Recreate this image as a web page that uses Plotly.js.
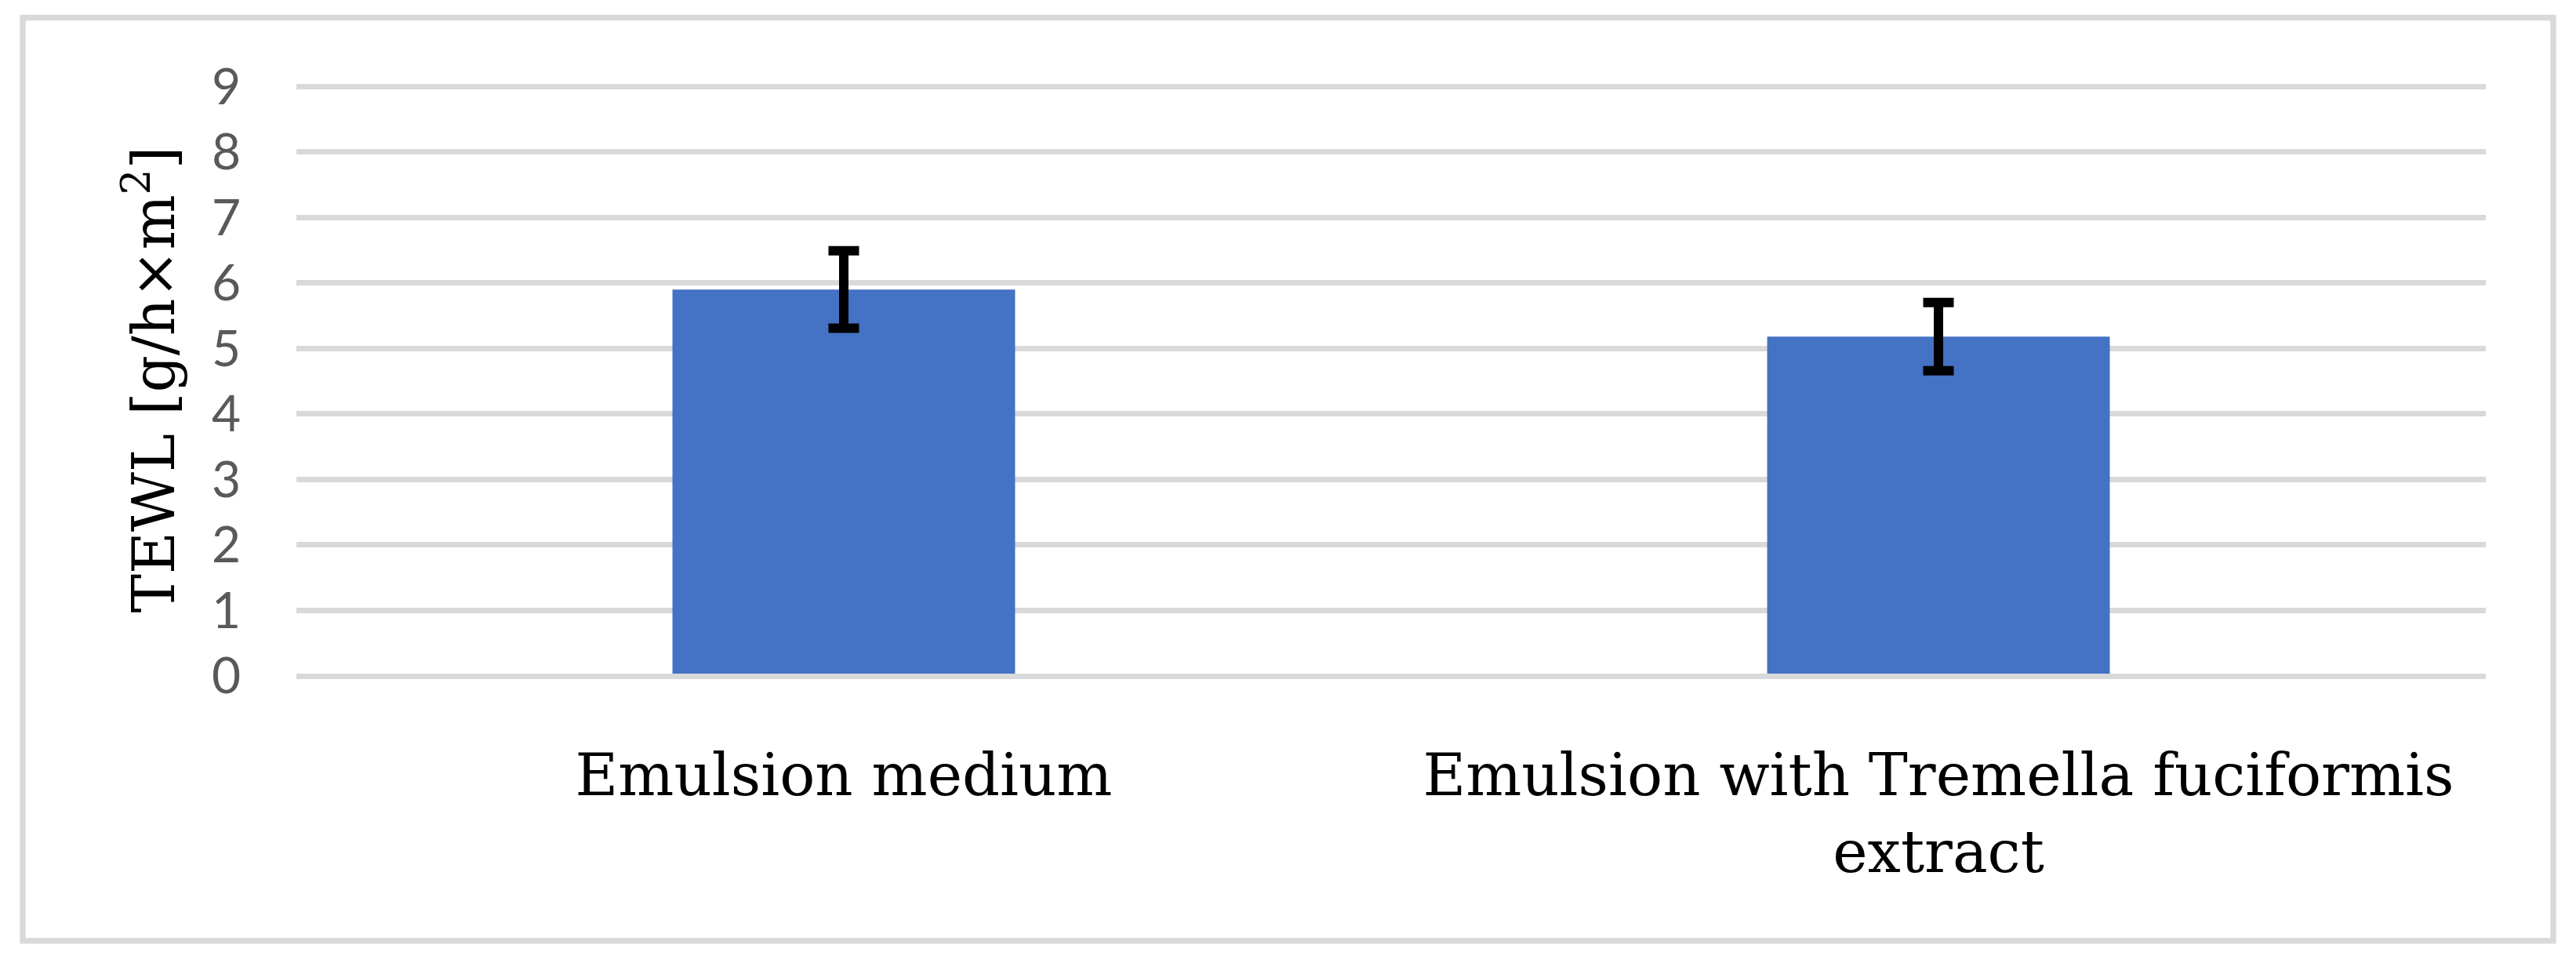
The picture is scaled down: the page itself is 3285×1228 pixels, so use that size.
<!DOCTYPE html>
<html>
<head>
<meta charset="utf-8">
<script src="https://cdn.plot.ly/plotly-3.0.1.min.js"></script>
<style>
  html, body { margin: 0; padding: 0; background: #fff; }
  #chart { width: 3285px; height: 1228px; }
</style>
</head>
<body>
<div id="chart"></div>
<script>
'use strict';

// data
const groups = ['Emulsion medium', 'Emulsion with Tremella fuciformis<br>extract'];
const tewl = [5.9, 5.18];
const tewlSd = [0.59, 0.52];
const yTicks = [0, 1, 2, 3, 4, 5, 6, 7, 8, 9];

const serif = 'DejaVu Serif, Liberation Serif, serif';
const gridColor = '#d9d9d9';

const trace = {
    type: 'bar',
    x: groups,
    y: tewl,
    marker: { color: '#4472c4', line: { width: 0 } },
    error_y: {
        type: 'data',
        array: tewlSd,
        visible: true,
        color: '#000',
        thickness: 12,
        width: 19.5,
    },
    hoverinfo: 'none',
};

// a hair above 9 so the top grid line is still drawn
const yTop = 9.05;

const layout = {
    width: 3285,
    height: 1228,
    margin: { l: 378, r: 115, t: 106.3, b: 365.5, pad: 0 },
    paper_bgcolor: '#fff',
    plot_bgcolor: '#fff',
    showlegend: false,
    bargap: 0.687,
    xaxis: {
        type: 'category',
        showgrid: false,
        showline: false,
        zeroline: false,
        ticks: '',
        ticklabelstandoff: 76,
        tickfont: { family: serif, size: 75, color: '#000' },
        automargin: false,
    },
    yaxis: {
        range: [0, yTop],
        tickvals: yTicks,
        showgrid: true,
        gridcolor: gridColor,
        gridwidth: 7,
        zeroline: true,
        zerolinecolor: gridColor,
        zerolinewidth: 7,
        zerolinelayer: 'above traces',
        showline: false,
        ticks: '',
        ticklabelstandoff: 70,
        tickfont: { family: 'Lato, Open Sans, sans-serif', size: 64, color: '#595959' },
        title: {
            text: 'TEWL [g/h×m<sup>2</sup>]',
            font: { family: serif, size: 74, color: '#000' },
            standoff: 22,
        },
        automargin: false,
    },
    shapes: [
        {
            // outer frame of the figure
            type: 'rect',
            xref: 'paper',
            yref: 'paper',
            x0: -0.125,
            x1: 1.0308,
            y0: -0.4466,
            y1: 1.1106,
            line: { color: gridColor, width: 7.5 },
            fillcolor: 'rgba(0,0,0,0)',
            layer: 'below',
        },
    ],
};

Plotly.newPlot('chart', [trace], layout, { staticPlot: true, displayModeBar: false });
</script>
</body>
</html>
